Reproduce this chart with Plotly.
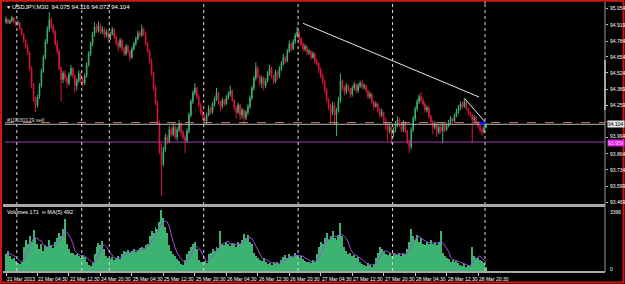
import plotly.graph_objects as go
import pandas as pd

# ---------------- data ----------------
OPEN = [
    94.940, 94.962, 94.931, 94.948, 94.975, 94.940, 94.918, 94.935, 94.880, 94.842,
    94.790, 94.735, 94.690, 94.560, 94.420, 94.310, 94.260, 94.330, 94.420, 94.540,
    94.650, 94.780, 94.880, 94.960, 94.900, 94.860, 94.760, 94.700, 94.560, 94.470,
    94.520, 94.480, 94.440, 94.510, 94.560, 94.500, 94.420, 94.460, 94.520, 94.470,
    94.440, 94.500, 94.590, 94.680, 94.760, 94.840, 94.900, 94.870, 94.910, 94.860,
    94.880, 94.830, 94.860, 94.800, 94.840, 94.880, 94.820, 94.770, 94.740, 94.790,
    94.720, 94.680, 94.740, 94.700, 94.650, 94.720, 94.760, 94.800, 94.850, 94.830,
    94.880, 94.840, 94.760, 94.700, 94.620, 94.520, 94.400, 94.280, 94.120, 93.880,
    93.780, 93.900, 94.000, 93.960, 94.060, 94.020, 94.080, 94.000, 94.060, 94.110,
    94.040, 94.000, 93.970, 94.050, 94.180, 94.290, 94.360, 94.400, 94.330, 94.260,
    94.200, 94.160, 94.130, 94.180, 94.240, 94.200, 94.270, 94.310, 94.360, 94.290,
    94.250, 94.300, 94.270, 94.320, 94.350, 94.380, 94.300, 94.240, 94.200, 94.260,
    94.180, 94.220, 94.160, 94.200, 94.250, 94.320, 94.400, 94.480, 94.560, 94.500,
    94.440, 94.480, 94.420, 94.460, 94.520, 94.560, 94.500, 94.460, 94.530, 94.500,
    94.560, 94.600, 94.650, 94.620, 94.700, 94.760, 94.720, 94.780, 94.830, 94.860,
    94.800, 94.760, 94.720, 94.740, 94.690, 94.700, 94.650, 94.680, 94.620, 94.600,
    94.550, 94.500, 94.450, 94.380, 94.300, 94.240, 94.200, 94.260, 94.180, 94.220,
    94.300, 94.460, 94.400, 94.370, 94.420, 94.390, 94.350, 94.400, 94.430, 94.380,
    94.420, 94.440, 94.410, 94.420, 94.380, 94.330, 94.350, 94.290, 94.250, 94.270,
    94.220, 94.180, 94.200, 94.140, 94.100, 94.050, 94.080, 94.020, 94.060, 94.100,
    94.140, 94.100, 94.060, 94.120, 94.050, 93.960, 93.920, 94.060, 94.150, 94.230,
    94.290, 94.330, 94.300, 94.270, 94.220, 94.240, 94.170, 94.120, 94.080, 94.110,
    94.040, 94.080, 94.050, 94.100, 94.060, 94.090, 94.120, 94.150, 94.130, 94.170,
    94.210, 94.240, 94.270, 94.250, 94.290, 94.230, 94.200, 94.180, 94.140, 94.160,
    94.120, 94.090, 94.060, 94.040, 94.075,
]
HIGH = [
    94.985, 94.970, 94.962, 94.992, 94.978, 94.950, 94.955, 94.940, 94.890, 94.848,
    94.800, 94.760, 94.700, 94.575, 94.440, 94.330, 94.345, 94.440, 94.560, 94.670,
    94.800, 94.905, 95.020, 94.975, 94.920, 94.875, 94.790, 94.720, 94.580, 94.540,
    94.545, 94.500, 94.530, 94.590, 94.570, 94.510, 94.480, 94.545, 94.530, 94.485,
    94.520, 94.610, 94.700, 94.780, 94.860, 94.935, 94.925, 94.945, 94.930, 94.905,
    94.895, 94.880, 94.870, 94.860, 94.900, 94.890, 94.830, 94.790, 94.810, 94.800,
    94.735, 94.760, 94.755, 94.710, 94.740, 94.780, 94.820, 94.870, 94.865, 94.920,
    94.895, 94.860, 94.780, 94.715, 94.640, 94.535, 94.420, 94.300, 94.135, 93.950,
    93.920, 94.030, 94.020, 94.090, 94.080, 94.110, 94.095, 94.080, 94.140, 94.125,
    94.060, 94.020, 94.070, 94.200, 94.310, 94.380, 94.440, 94.410, 94.350, 94.280,
    94.220, 94.180, 94.200, 94.260, 94.250, 94.285, 94.330, 94.400, 94.370, 94.300,
    94.320, 94.310, 94.340, 94.370, 94.420, 94.390, 94.310, 94.260, 94.280, 94.270,
    94.240, 94.230, 94.220, 94.270, 94.340, 94.420, 94.500, 94.610, 94.580, 94.510,
    94.500, 94.495, 94.480, 94.540, 94.590, 94.575, 94.510, 94.550, 94.545, 94.580,
    94.620, 94.680, 94.660, 94.720, 94.790, 94.775, 94.800, 94.850, 94.900, 94.870,
    94.820, 94.780, 94.760, 94.750, 94.720, 94.710, 94.700, 94.690, 94.640, 94.610,
    94.570, 94.520, 94.470, 94.400, 94.320, 94.270, 94.290, 94.280, 94.240, 94.330,
    94.520, 94.470, 94.420, 94.440, 94.430, 94.400, 94.420, 94.450, 94.440, 94.440,
    94.460, 94.470, 94.440, 94.430, 94.390, 94.370, 94.360, 94.300, 94.290, 94.280,
    94.240, 94.230, 94.210, 94.160, 94.120, 94.110, 94.090, 94.080, 94.130, 94.170,
    94.160, 94.120, 94.140, 94.130, 94.060, 93.980, 94.080, 94.170, 94.250, 94.310,
    94.350, 94.370, 94.320, 94.290, 94.260, 94.250, 94.180, 94.140, 94.130, 94.120,
    94.100, 94.110, 94.120, 94.110, 94.110, 94.140, 94.170, 94.160, 94.190, 94.230,
    94.260, 94.290, 94.290, 94.320, 94.300, 94.240, 94.210, 94.190, 94.180, 94.170,
    94.130, 94.100, 94.080, 94.090, 94.116,
]
LOW = [
    94.925, 94.920, 94.925, 94.940, 94.930, 94.905, 94.910, 94.870, 94.830, 94.770,
    94.720, 94.670, 94.540, 94.400, 94.285, 94.205, 94.240, 94.310, 94.405, 94.525,
    94.635, 94.760, 94.860, 94.885, 94.840, 94.745, 94.680, 94.545, 94.290, 94.440,
    94.455, 94.400, 94.420, 94.495, 94.480, 94.360, 94.380, 94.445, 94.440, 94.410,
    94.425, 94.485, 94.575, 94.660, 94.740, 94.820, 94.850, 94.855, 94.845, 94.840,
    94.810, 94.815, 94.780, 94.790, 94.830, 94.800, 94.750, 94.700, 94.725, 94.700,
    94.660, 94.665, 94.680, 94.620, 94.640, 94.705, 94.745, 94.790, 94.810, 94.820,
    94.825, 94.745, 94.690, 94.600, 94.500, 94.380, 94.260, 94.100, 93.860, 93.520,
    93.760, 93.880, 93.940, 93.950, 94.000, 94.010, 93.980, 93.970, 94.040, 94.010,
    93.980, 93.870, 93.950, 94.030, 94.160, 94.270, 94.340, 94.310, 94.240, 94.180,
    94.140, 94.110, 94.100, 94.170, 94.180, 94.190, 94.250, 94.295, 94.270, 94.210,
    94.230, 94.250, 94.260, 94.305, 94.330, 94.290, 94.220, 94.150, 94.190, 94.140,
    94.150, 94.100, 94.140, 94.180, 94.230, 94.300, 94.380, 94.460, 94.480, 94.420,
    94.400, 94.380, 94.400, 94.445, 94.500, 94.480, 94.430, 94.440, 94.470, 94.480,
    94.540, 94.585, 94.600, 94.610, 94.690, 94.700, 94.710, 94.760, 94.815, 94.780,
    94.740, 94.700, 94.700, 94.670, 94.670, 94.630, 94.640, 94.600, 94.580, 94.520,
    94.480, 94.430, 94.360, 94.280, 94.220, 94.120, 94.180, 94.100, 94.010, 94.200,
    94.280, 94.380, 94.340, 94.350, 94.370, 94.320, 94.330, 94.380, 94.360, 94.360,
    94.400, 94.390, 94.390, 94.360, 94.310, 94.310, 94.270, 94.220, 94.240, 94.200,
    94.160, 94.160, 94.120, 94.060, 93.970, 94.030, 93.940, 94.000, 94.040, 94.080,
    94.080, 94.040, 94.040, 94.030, 93.940, 93.870, 93.900, 94.040, 94.130, 94.210,
    94.270, 94.280, 94.250, 94.200, 94.200, 94.150, 94.100, 94.020, 94.060, 94.000,
    94.020, 94.030, 93.950, 94.040, 94.050, 94.080, 94.100, 94.110, 94.120, 94.160,
    94.190, 94.220, 94.230, 94.240, 94.220, 94.180, 94.160, 93.950, 94.120, 94.100,
    94.070, 94.030, 94.010, 94.030, 94.072,
]
CLOSE = [
    94.962, 94.931, 94.948, 94.975, 94.940, 94.918, 94.935, 94.880, 94.842, 94.790,
    94.735, 94.690, 94.560, 94.420, 94.310, 94.260, 94.330, 94.420, 94.540, 94.650,
    94.780, 94.880, 94.960, 94.900, 94.860, 94.760, 94.700, 94.560, 94.470, 94.520,
    94.480, 94.440, 94.510, 94.560, 94.500, 94.420, 94.460, 94.520, 94.470, 94.440,
    94.500, 94.590, 94.680, 94.760, 94.840, 94.900, 94.870, 94.910, 94.860, 94.880,
    94.830, 94.860, 94.800, 94.840, 94.880, 94.820, 94.770, 94.740, 94.790, 94.720,
    94.680, 94.740, 94.700, 94.650, 94.720, 94.760, 94.800, 94.850, 94.830, 94.880,
    94.840, 94.760, 94.700, 94.620, 94.520, 94.400, 94.280, 94.120, 93.880, 93.780,
    93.900, 94.000, 93.960, 94.060, 94.020, 94.080, 94.000, 94.060, 94.110, 94.040,
    94.000, 93.970, 94.050, 94.180, 94.290, 94.360, 94.400, 94.330, 94.260, 94.200,
    94.160, 94.130, 94.180, 94.240, 94.200, 94.270, 94.310, 94.360, 94.290, 94.250,
    94.300, 94.270, 94.320, 94.350, 94.380, 94.300, 94.240, 94.200, 94.260, 94.180,
    94.220, 94.160, 94.200, 94.250, 94.320, 94.400, 94.480, 94.560, 94.500, 94.440,
    94.480, 94.420, 94.460, 94.520, 94.560, 94.500, 94.460, 94.530, 94.500, 94.560,
    94.600, 94.650, 94.620, 94.700, 94.760, 94.720, 94.780, 94.830, 94.860, 94.800,
    94.760, 94.720, 94.740, 94.690, 94.700, 94.650, 94.680, 94.620, 94.600, 94.550,
    94.500, 94.450, 94.380, 94.300, 94.240, 94.200, 94.260, 94.180, 94.220, 94.300,
    94.460, 94.400, 94.370, 94.420, 94.390, 94.350, 94.400, 94.430, 94.380, 94.420,
    94.440, 94.410, 94.420, 94.380, 94.330, 94.350, 94.290, 94.250, 94.270, 94.220,
    94.180, 94.200, 94.140, 94.100, 94.050, 94.080, 94.020, 94.060, 94.100, 94.140,
    94.100, 94.060, 94.120, 94.050, 93.960, 93.920, 94.060, 94.150, 94.230, 94.290,
    94.330, 94.300, 94.270, 94.220, 94.240, 94.170, 94.120, 94.080, 94.110, 94.040,
    94.080, 94.050, 94.100, 94.060, 94.090, 94.120, 94.150, 94.130, 94.170, 94.210,
    94.240, 94.270, 94.250, 94.290, 94.230, 94.200, 94.180, 94.140, 94.160, 94.120,
    94.090, 94.060, 94.040, 94.075, 94.104,
]
VOLUME = [
    900, 1100, 800, 650, 700, 550,
    400, 350, 500,
    1300, 1700, 1500, 1900, 1600, 2250, 1800, 1500,
    1200, 1500, 1100, 1400, 1300, 1700, 1400, 1250, 1600,
    1800, 2100, 1900, 2300, 2850,
    1500, 1200, 1000, 950, 850, 900, 800, 700, 850, 750,
    450, 300, 250, 400,
    900, 1300, 1550, 1400, 1650, 1200,
    800, 700, 650, 750, 600, 700, 800, 650,
    900, 1100, 1050, 1150, 1000, 1100, 1200, 1050, 1150, 1250, 1300, 1200, 1400, 1500,
    1900, 2200, 2100, 2400, 2300,
    2700, 3396, 2900,
    2400, 2100,
    1400, 1100, 900, 800, 650, 550,
    350, 300,
    600, 900, 1100, 1300, 1500, 1600, 1200,
    600, 500, 450, 550, 400,
    900, 1000, 1200, 1100, 1300, 1250,
    2200,
    1500, 1400, 1600, 1450, 1350, 1550, 1500, 1300, 1600, 1450,
    1700, 2050, 1800, 2000, 1600, 1500,
    1000, 800, 700, 600, 550, 700,
    450, 350, 400, 300, 500, 400, 450, 350,
    600, 750, 850, 700, 900, 800, 750, 1000, 850, 700, 800, 650,
    550, 450, 500, 400, 600, 500,
    900, 1300, 1600, 1500, 1800, 2100, 1700, 1900, 2200, 1800, 1700, 2000, 2640, 1900,
    1300, 1100, 900, 1000, 800, 850, 700, 750,
    450, 350, 300, 250, 400, 300, 200, 350,
    700, 1000, 1300, 1200, 1100, 900,
    850, 950, 800, 1000, 900, 850, 1000, 800, 950, 900,
    1200, 1600, 2300, 1900, 1700, 2000, 1600, 1800, 1500,
    1400, 1600, 1500, 1700, 1450, 1550, 1400, 1600, 2200,
    1000, 800, 700, 650, 500, 600, 450, 550, 400,
    300, 250, 350, 200, 300, 250,
    1300, 800, 700, 700, 600, 550, 439, 171,
]

TICK_POS = [0, 16, 32, 48, 64, 80, 96, 112, 128, 144, 160, 176, 192, 208, 224, 240]
TICK_LABELS = ["21 Mar 2013", "22 Mar 04:30", "22 Mar 12:30", "24 Mar 20:30",
               "25 Mar 04:30", "25 Mar 12:30", "25 Mar 20:30", "26 Mar 04:30",
               "26 Mar 12:30", "26 Mar 20:30", "27 Mar 04:30", "27 Mar 12:30",
               "27 Mar 20:30", "28 Mar 04:30", "28 Mar 12:30", "28 Mar 20:30"]
PRICE_TICKS = [95.054, 94.919, 94.784, 94.654, 94.524, 94.389, 94.259,
               93.994, 93.864, 93.734, 93.599, 93.469]
VOL_TICKS = [0, 3396]
SEPARATORS = [5.5, 38.5, 52.5, 100.5, 148.5, 196.5, 243.5]
TREND1_X = [151, 240.5]
TREND1_Y = [94.929, 94.327]
TREND2_X = [233.3, 243.6]
TREND2_Y = [94.312, 94.122]
ARROW_X = [240.8, 243.8]
ARROW_Y = [94.113, 94.113]
ORDER_PRICE = 94.118
BID_PRICE = 94.104
ALERT_PRICE = 93.959
HEADER = "USDJPY,M30  94.075 94.116 94.072 94.104"
ORDER_LABEL = "#10030129 sell"
VOL_LABEL = "Volumes 171  \u221e MA(5) 492"

# ---------------- figure ----------------
W, H = 625, 284
n = min(len(OPEN), len(HIGH), len(LOW), len(CLOSE), len(VOLUME))
x = list(range(n))
ma = pd.Series(VOLUME[:n]).rolling(5, min_periods=1).mean()

GREEN = "#3CB371"
RED = "#DC143C"
VGREEN = "#3CB371"
PURPLE = "#9B4FD6"
AXC = "#9a9a9a"
FONT = "Liberation Sans, Arial, sans-serif"


def px(xp):
    return xp / W


def py(yp):
    return (H - yp) / H


XDOM = [px(5), px(605)]
XR = [-0.51, 304.5]

fig = go.Figure()
fig.add_trace(go.Candlestick(
    x=x, open=OPEN[:n], high=HIGH[:n], low=LOW[:n], close=CLOSE[:n],
    xaxis="x", yaxis="y", whiskerwidth=0,
    increasing=dict(line=dict(color=GREEN, width=1), fillcolor=GREEN),
    decreasing=dict(line=dict(color=RED, width=1), fillcolor=RED),
    showlegend=False, hoverinfo="skip"))

for price, color, dash in [(ORDER_PRICE, "#c0806a", "dash"),
                           (BID_PRICE, "#b8b8b8", "solid"),
                           (ALERT_PRICE, "#a23ca8", "solid")]:
    fig.add_trace(go.Scatter(x=[XR[0], XR[1]], y=[price, price], mode="lines",
                             line=dict(color=color, width=1, dash=dash),
                             xaxis="x", yaxis="y", showlegend=False, hoverinfo="skip"))

fig.add_trace(go.Scatter(x=TREND1_X, y=TREND1_Y, mode="lines",
                         line=dict(color="#e8e8e8", width=1),
                         xaxis="x", yaxis="y", showlegend=False, hoverinfo="skip"))
fig.add_trace(go.Scatter(x=TREND2_X, y=TREND2_Y, mode="lines",
                         line=dict(color="#e8e8e8", width=1),
                         xaxis="x", yaxis="y", showlegend=False, hoverinfo="skip"))
fig.add_trace(go.Scatter(x=ARROW_X, y=ARROW_Y, mode="lines",
                         line=dict(color="#1010ff", width=3),
                         xaxis="x", yaxis="y", showlegend=False, hoverinfo="skip"))

fig.add_trace(go.Bar(x=x, y=VOLUME[:n], xaxis="x2", yaxis="y2", width=0.5,
                     marker=dict(color=VGREEN, line=dict(width=0)),
                     showlegend=False, hoverinfo="skip"))
fig.add_trace(go.Scatter(x=x, y=ma, xaxis="x2", yaxis="y2", mode="lines",
                         line=dict(color=PURPLE, width=1),
                         showlegend=False, hoverinfo="skip"))

shapes = []
for s in SEPARATORS:
    shapes.append(dict(type="line", xref="x", yref="paper", x0=s, x1=s,
                       y0=py(271), y1=py(3),
                       line=dict(color="#d8d8d8", width=1, dash="dot")))
shapes.append(dict(type="line", xref="paper", yref="paper", x0=px(3), x1=px(605),
                   y0=py(205.5), y1=py(205.5), line=dict(color="#a8a8a8", width=3)))
shapes.append(dict(type="line", xref="paper", yref="paper", x0=px(3), x1=px(605),
                   y0=py(272), y1=py(272), line=dict(color="#a8a8a8", width=2)))
shapes.append(dict(type="line", xref="paper", yref="paper", x0=px(605), x1=px(605),
                   y0=py(272), y1=py(2), line=dict(color=AXC, width=1)))
shapes.append(dict(type="line", xref="paper", yref="paper", x0=px(605), x1=px(605),
                   y0=py(110), y1=py(60), line=dict(color="#ffffff", width=1)))
shapes.append(dict(type="line", xref="paper", yref="paper", x0=px(606), x1=px(622),
                   y0=py(121.5), y1=py(121.5), line=dict(color="#e02020", width=1)))
shapes.append(dict(type="rect", xref="paper", yref="paper", x0=px(1), x1=px(623.5),
                   y0=py(282.5), y1=py(0.8), line=dict(color="#d01818", width=2)))

small = dict(size=5, color="#ffffff", family=FONT)
annotations = [
    dict(text="\u25bc", x=px(3.5), y=py(7), xref="paper", yref="paper", showarrow=False,
         xanchor="left", yanchor="middle", font=dict(size=5, color="#ffffff", family=FONT)),
    dict(text=HEADER, x=px(10), y=py(7), xref="paper", yref="paper", showarrow=False,
         xanchor="left", yanchor="middle", font=dict(size=6, color="#ffffff", family=FONT)),
    dict(text=ORDER_LABEL, x=px(5), y=py(119.5), xref="paper", yref="paper", showarrow=False,
         xanchor="left", yanchor="middle", font=dict(size=5.5, color="#d8d8d8", family=FONT)),
    dict(text=VOL_LABEL, x=px(5), y=py(211.5), xref="paper", yref="paper", showarrow=False,
         xanchor="left", yanchor="middle", font=dict(size=5.5, color="#ffffff", family=FONT)),
    dict(text="\u25bc", x=SEPARATORS[-1], y=py(3), xref="x", yref="paper", showarrow=False,
         xanchor="center", yanchor="middle", font=dict(size=4, color="#b0b0b0", family=FONT)),
]
for v in PRICE_TICKS:
    annotations.append(dict(text="%.3f" % v, x=px(607.5), y=v, xref="paper", yref="y",
                            showarrow=False, xanchor="left", yanchor="middle",
                            font=small, yshift=(2 if abs(v - 93.994) < 1e-6 else 0)))
annotations.append(dict(text="%.3f" % BID_PRICE, x=px(606.5), y=BID_PRICE, xref="paper",
                        yref="y", showarrow=False, xanchor="left", yanchor="middle",
                        bgcolor="#e8e8e8", borderpad=0,
                        font=dict(size=5, color="#000000", family=FONT)))
annotations.append(dict(text="%.3f" % ALERT_PRICE, x=px(606.5), y=ALERT_PRICE, xref="paper",
                        yref="y", showarrow=False, xanchor="left", yanchor="middle",
                        bgcolor="#e020e0", borderpad=0, yshift=-0.5,
                        font=dict(size=5, color="#f8d8f8", family=FONT)))
for v in VOL_TICKS:
    annotations.append(dict(text=str(v), x=px(607.5), y=v, xref="paper", yref="y2",
                            showarrow=False, xanchor="left", yanchor="middle",
                            font=small, yshift=(-2 if v > 0 else 2)))
for pos, lab in zip(TICK_POS, TICK_LABELS):
    annotations.append(dict(text=lab, x=pos, y=py(278.5), xref="x2", yref="paper",
                            showarrow=False, xanchor="left", yanchor="middle",
                            xshift=-1, font=small))

fig.update_layout(
    width=W, height=H,
    margin=dict(l=0, r=0, t=0, b=0, autoexpand=False),
    paper_bgcolor="#000000", plot_bgcolor="#000000",
    showlegend=False, bargap=0, boxgap=0.55,
    font=dict(family=FONT, size=6, color="#ffffff"),
    xaxis=dict(domain=XDOM, range=XR, anchor="y", showticklabels=False, showgrid=False,
               zeroline=False, showline=False, ticks="", rangeslider=dict(visible=False),
               fixedrange=True),
    xaxis2=dict(domain=XDOM, range=XR, anchor="y2", matches="x", showgrid=False,
                zeroline=False, showline=False, tickmode="array", tickvals=TICK_POS,
                showticklabels=False, ticks="outside", ticklen=3, tickwidth=1,
                tickcolor="#c8c8c8", automargin=False),
    yaxis=dict(domain=[py(204), py(3)], range=[93.453, 95.095], anchor="x", side="right",
               showgrid=False, zeroline=False, showline=False, tickmode="array",
               tickvals=PRICE_TICKS, showticklabels=False,
               ticks="outside", ticklen=2, tickcolor="#c8c8c8", automargin=False),
    yaxis2=dict(domain=[py(272), py(207)], range=[-83.5, 3535], anchor="x2", side="right",
                showgrid=False, zeroline=False, showline=False, tickmode="array",
                tickvals=VOL_TICKS, showticklabels=False,
                ticks="", automargin=False),
    shapes=shapes, annotations=annotations,
)

fig.write_html("out.html")
